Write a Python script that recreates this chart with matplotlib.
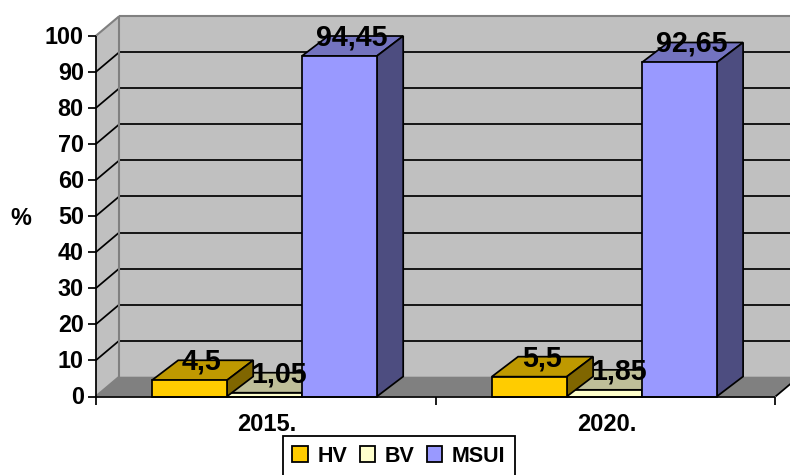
import matplotlib
matplotlib.use("Agg")
import matplotlib.pyplot as plt
from matplotlib.patches import Polygon, Patch

categories = ["2015.", "2020."]
series_names = ["HV", "BV", "MSUI"]
hv = [4.5, 5.5]
bv = [1.05, 1.85]
msui = [94.45, 92.65]
labels_hv = ["4,5", "5,5"]
labels_bv = ["1,05", "1,85"]
labels_msui = ["94,45", "92,65"]
yticks = list(range(0, 101, 10))

W, H = 790, 475
L, R, B, T = 95.7, 775.5, 396.5, 36.0
plt.rcParams["font.family"] = ["Liberation Sans", "DejaVu Sans"]
plt.rcParams["font.weight"] = "bold"

fig = plt.figure(figsize=(W / 100, H / 100), dpi=100)
ax = fig.add_axes([L / W, 1 - B / H, (R - L) / W, (B - T) / H])
ax.set_xlim(0, 2)
ax.set_ylim(0, 100)
ax.axis("off")

ux = (R - L) / 2      # px per category
uy = (B - T) / 100    # px per value unit
wall_dx, wall_dy = 23.5 / ux, 19.8 / uy
bar_dx, bar_dy = 26.3 / ux, 20.0 / uy
bar_w = 75.0 / ux
start = 56.2 / ux
LW = 1.25
GREY = "#808080"

def poly(pts, fc, ec="black", lw=LW, z=1):
    ax.add_patch(Polygon(pts, closed=True, fc=fc, ec=ec, lw=lw, zorder=z,
                         clip_on=False, joinstyle="miter"))

def line(xs, ys, c="black", lw=LW, z=2):
    ax.plot(xs, ys, color=c, lw=lw, zorder=z, clip_on=False, solid_capstyle="butt")

# walls and floor
poly([(wall_dx, wall_dy), (2 + wall_dx, wall_dy), (2 + wall_dx, 100 + wall_dy), (wall_dx, 100 + wall_dy)],
     "#C0C0C0", ec="none", z=1)
poly([(0, 0), (wall_dx, wall_dy), (wall_dx, 100 + wall_dy), (0, 100)], "#C0C0C0", ec="none", z=1)
poly([(0, 0), (2, 0), (2 + wall_dx, wall_dy), (wall_dx, wall_dy)], GREY, ec="none", z=1)

# gridlines
for v in yticks[1:-1]:
    line([wall_dx, 2 + wall_dx], [v + wall_dy] * 2)
    line([0, wall_dx], [v, v + wall_dy])

# wall edges
line([wall_dx, wall_dx], [wall_dy, 100 + wall_dy], c=GREY, lw=1.5, z=3)
line([wall_dx, 2 + wall_dx], [100 + wall_dy] * 2, c=GREY, lw=1.5, z=3)
line([0, wall_dx], [100, 100 + wall_dy], c=GREY, lw=1.5, z=3)
line([0, wall_dx], [0, wall_dy], c=GREY, lw=1.5, z=3)
line([2, 2 + wall_dx], [0, wall_dy], z=3)

# axes and ticks
tick_x = 8.0 / ux
tick_y = 8.0 / uy
line([0, 0], [0, 100], z=8)
line([0, 2], [0, 0], z=8)
for v in yticks:
    line([-tick_x, 0], [v, v], z=8)
    ax.annotate(str(v), (0, v), xytext=(-8.6, -1.0), textcoords="offset points",
                ha="right", va="center", fontsize=16.8, zorder=9, annotation_clip=False)
for i in range(3):
    line([i, i], [0, -tick_y], z=8)
for i, c in enumerate(categories):
    ax.annotate(c, (i + 0.5, 0), xytext=(0.6, -12.0), textcoords="offset points",
                ha="center", va="top", fontsize=17, zorder=9, annotation_clip=False)

def bar(x, v, front, top, side, z):
    poly([(x, v), (x + bar_dx, v + bar_dy), (x + bar_w + bar_dx, v + bar_dy), (x + bar_w, v)], top, z=z)
    poly([(x + bar_w, 0), (x + bar_w + bar_dx, bar_dy), (x + bar_w + bar_dx, v + bar_dy), (x + bar_w, v)], side, z=z)
    poly([(x, 0), (x + bar_w, 0), (x + bar_w, v), (x, v)], front, z=z)

styles = {
    "HV": ("#FFCC00", "#BF9900", "#806600"),
    "BV": ("#FFFFCC", "#BFBF99", "#808066"),
    "MSUI": ("#9999FF", "#7373BF", "#4D4D80"),
}

for g in range(2):
    x0 = g + start
    bar(x0 + bar_w, bv[g], *styles["BV"], z=4)
    bar(x0, hv[g], *styles["HV"], z=5)
    bar(x0 + 2 * bar_w, msui[g], *styles["MSUI"], z=6)

for g in range(2):
    x0 = g + start
    for k, (vals, labs, off) in enumerate([(hv, labels_hv, 12.5), (bv, labels_bv, 15.0), (msui, labels_msui, 12.5)]):
        xc = x0 + (k + 0.5) * bar_w
        ax.annotate(labs[g], (xc, vals[g] + bar_dy), xytext=(off * 0.72, -1.0),
                    textcoords="offset points", ha="center", va="center",
                    fontsize=20.6, color="black", zorder=10, annotation_clip=False)

ax.text(-75 / ux, 49.4, "%", ha="center", va="center", fontsize=16.8, zorder=9, clip_on=False)

handles = [Patch(fc=styles[n][0], ec="black", lw=1.3, label=n) for n in series_names]
leg = fig.legend(handles=handles, loc="center", bbox_to_anchor=(399 / W, 1 - 456 / H),
                 ncol=3, frameon=True, fancybox=False, edgecolor="black", framealpha=1,
                 fontsize=15.5, handlelength=0.7, handleheight=0.7, handletextpad=0.46,
                 columnspacing=0.58, borderpad=0.42, borderaxespad=0)
leg.get_frame().set_linewidth(1.3)

fig.savefig("out.png", dpi=100, facecolor="white")
